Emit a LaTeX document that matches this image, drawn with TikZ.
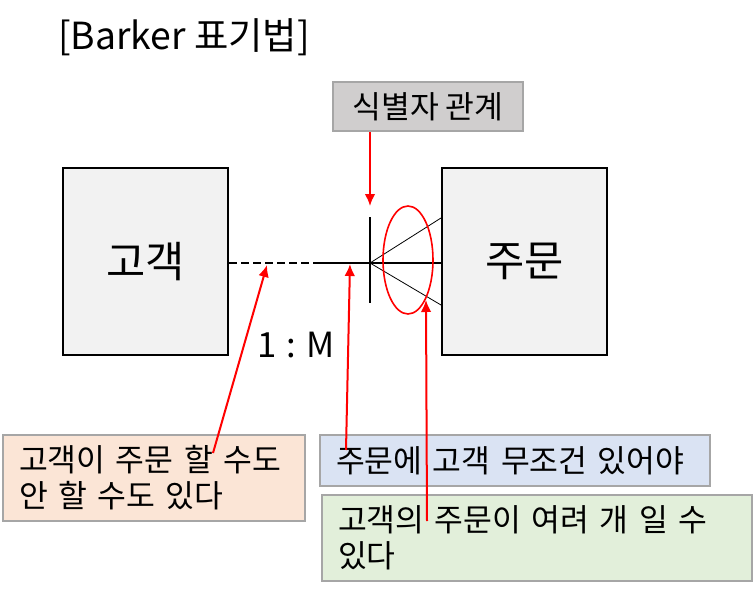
\documentclass[tikz,border=0pt]{standalone}
\usepackage{fontspec}
\setmainfont{Noto Sans CJK KR}
\usetikzlibrary{arrows.meta,positioning,calc}
\definecolor{entfill}{HTML}{F2F2F2}
\definecolor{relfill}{HTML}{D0CECE}
\definecolor{optfill}{HTML}{FBE5D6}
\definecolor{mustfill}{HTML}{DAE3F3}
\definecolor{manyfill}{HTML}{E2EFDA}
\definecolor{noteline}{HTML}{A6A6A6}

\begin{document}
\begin{tikzpicture}[
  x=0.75pt, y=-0.75pt,
  >=Latex,
  entity/.style={rectangle, draw=black, fill=entfill, line width=1.5pt, minimum width=123.75pt, minimum height=140pt, font=\fontsize{32}{36}\selectfont},
  note/.style={rectangle, draw=noteline, line width=1.3pt, align=left, inner xsep=12pt, inner ysep=0pt, font=\fontsize{23.5}{27}\selectfont},
  pointer/.style={->, red, line width=1.5pt, >={Latex[length=9pt,width=8pt]}}
]
  \useasboundingbox (0,0) rectangle (754,592);

  \node[font=\fontsize{28}{32}\selectfont] (title) at (184,37) {[Barker 표기법]};

  \node[entity] (cust) at (145.5,261.5) {고객};
  \node[entity] (ord) at (524.5,261.5) {주문};

  % relationship line and crow's foot
  \coordinate (mid) at (320,263);
  \coordinate (foot) at (370,263);
  \draw[line width=1pt, dash pattern=on 6pt off 3pt] (cust.east |- mid) -- (mid);
  \draw[line width=1pt] (mid) -- (ord.west |- foot);
  \draw[line width=1.5pt] (370,217) coordinate (bartop) -- (370,303) coordinate (barbot);
  \draw[line width=0.6pt] (foot) -- (ord.west |- 0,218);
  \draw[line width=0.6pt] (foot) -- (ord.west |- 0,305);
  \draw[red, line width=1.2pt] (408,260) ellipse [x radius=25, y radius=54];
  \node[font=\fontsize{26}{30}\selectfont] (card) at (296,345) {1\hspace{0.3em}:\hspace{0.3em}M};

  \node[note, fill=relfill, minimum width=142.5pt, minimum height=36.75pt, align=center] (rel) at (428,106.5) {식별자 관계};
  \node[note, fill=optfill, text width=202.5pt, minimum height=64.5pt] (opt) at (154,478) {고객이 주문 할 수도\\안 할 수도 있다};
  \node[note, fill=mustfill, text width=268.5pt, minimum height=38.25pt] (must) at (515,460.5) {주문에 고객 무조건 있어야};
  \node[note, fill=manyfill, text width=298.5pt, minimum height=64.5pt] (many) at (537,538) {고객의 주문이 여려 개 일 수\\있다};

  % red pointers
  \coordinate (p1) at (213,453);
  \coordinate (p2) at (346,450);
  \coordinate (p3) at (427,521);
  \draw[pointer] (rel.south -| foot) -- (370,206);
  \draw[pointer] (p1) -- (267,265);
  \draw[pointer] (p2) -- (350,264);
  \draw[pointer] (p3) -- (426,300);
\end{tikzpicture}
\end{document}
